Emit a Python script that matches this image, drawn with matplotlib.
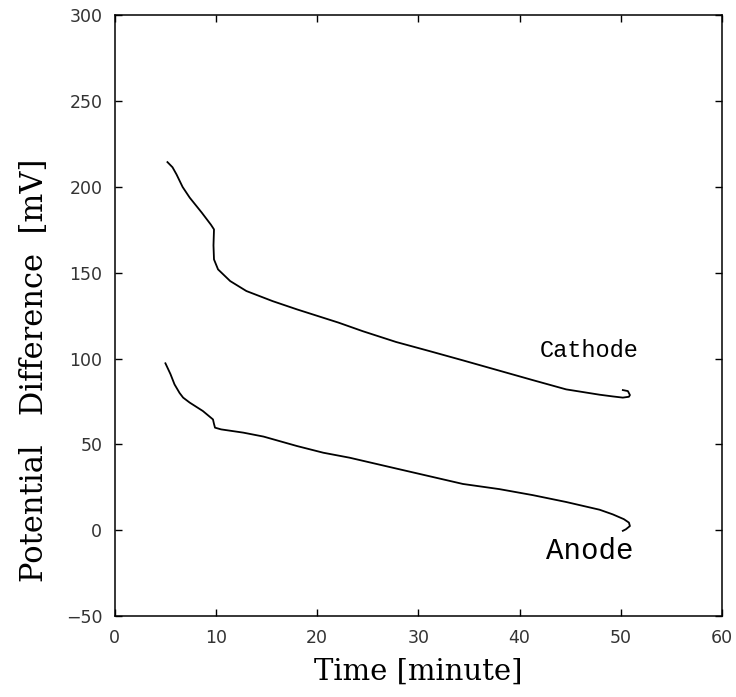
import matplotlib
matplotlib.use('Agg')
import matplotlib.pyplot as plt

# Cathode curve (time in minutes, potential difference in mV)
cathode_t = [5.2, 5.7, 6.1, 6.7, 7.4, 8.6, 9.5, 9.8, 9.75, 9.8, 10.2, 11.4, 13.0, 15.6, 18.0, 22.1,
             24.5, 27.8, 31.1, 34.4, 38.0, 41.3, 44.6, 47.9, 49.2, 50.2, 50.8, 50.9, 50.7, 50.2]
cathode_v = [214.5, 211.5, 207.3, 200.0, 193.8, 185.0, 178.0, 175.3, 166.0, 157.8, 152.0, 145.2, 139.4,
             133.5, 128.7, 121.0, 116.0, 109.7, 104.4, 99.0, 93.0, 87.5, 82.1, 79.0, 78.0, 77.3,
             77.8, 78.8, 81.1, 81.7]

# Anode curve
anode_t = [5.0, 5.5, 5.9, 6.4, 6.75, 7.4, 8.7, 9.7, 9.8, 9.9, 10.5, 12.7, 14.7, 18.0, 20.6, 23.2,
           27.8, 31.1, 34.4, 38.0, 41.3, 44.6, 47.9, 49.2, 50.3, 50.8, 50.9, 50.5, 50.2]
anode_v = [97.3, 91.0, 85.0, 80.0, 77.3, 74.4, 69.5, 64.6, 62.0, 59.8, 58.8, 56.9, 54.6, 49.1,
           45.2, 42.3, 36.0, 31.5, 27.0, 24.0, 20.5, 16.5, 12.0, 9.3, 6.5, 4.5, 2.5, 0.6, -0.3]

x_ticks = [0, 10, 20, 30, 40, 50, 60]
y_ticks = [-50, 0, 50, 100, 150, 200, 250, 300]

fig = plt.figure(figsize=(7.36, 6.97), dpi=100)
ax = fig.add_axes([0.156, 0.116, 0.825, 0.862])

ax.plot(cathode_t, cathode_v, color='black', lw=1.3)
ax.plot(anode_t, anode_v, color='black', lw=1.3)

ax.text(46.9, 105, 'Cathode', family='Liberation Mono', fontsize=17, ha='center', va='center')
ax.text(46.9, -12, 'Anode', family='Liberation Mono', fontsize=21, ha='center', va='center')

ax.set_xlim(0, 60)
ax.set_ylim(-50, 300)
ax.set_xticks(x_ticks)
ax.set_yticks(y_ticks)
ax.tick_params(direction='in', length=5, width=1, top=True, right=True,
               labelsize=12.5, pad=9, colors='black', labelcolor='#333333')
for s in ax.spines.values():
    s.set_linewidth(1.1)

ax.set_xlabel('Time [minute]', family='DejaVu Serif', fontsize=21, labelpad=8)
ax.set_ylabel('Potential   Difference  [mV]', family='DejaVu Serif', fontsize=22)
ax.yaxis.set_label_coords(-0.107, 0.41)

fig.savefig('out.png', dpi=100)
